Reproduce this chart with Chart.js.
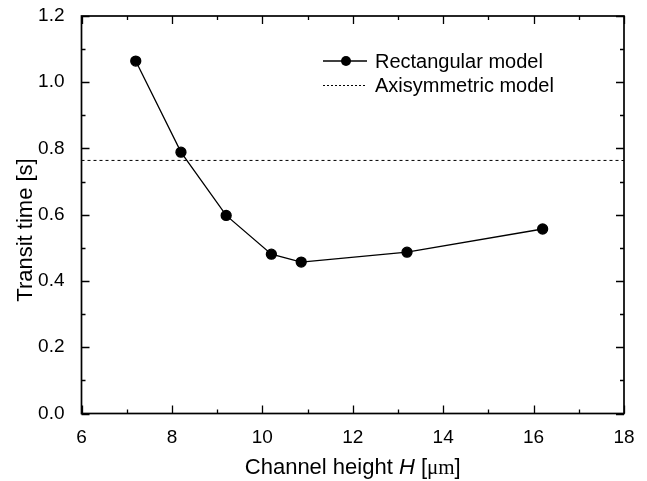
<!DOCTYPE html>
<html>
<head>
<meta charset="utf-8">
<script src="https://cdn.jsdelivr.net/npm/chart.js@4/dist/chart.umd.min.js"></script>
<style>
  html, body { margin: 0; padding: 0; background: #fff; }
  #wrap { width: 647px; height: 481px; }
</style>
</head>
<body>
<div id="wrap"><canvas id="c" width="647" height="481"></canvas></div>
<script>
    // data
    const channelHeight = [7.2, 8.2, 9.2, 10.2, 10.86, 13.2, 16.2];
    const transitTime = [1.064, 0.789, 0.598, 0.481, 0.457, 0.487, 0.557];
    const axisymmetricTime = 0.764;
    const xRange = [6, 18];
    const yRange = [0, 1.2];
    const seriesNames = ['Rectangular model', 'Axisymmetric model'];

    const FONT = '"Liberation Sans", Arial, sans-serif';

    // ticks pointing inward on all four sides, frame, legend and axis titles
    const frameTicks = {
        id: 'frameTicks',
        afterDraw(chart) {
            const { ctx, chartArea: a, scales: { x, y } } = chart;
            ctx.save();
            ctx.strokeStyle = '#000';
            ctx.lineWidth = 1.3;
            for (let v = xRange[0]; v <= xRange[1]; v += 1) {
                const px = Math.round(x.getPixelForValue(v)) + 0.5;
                const len = v % 2 === 0 ? 8 : 4;
                ctx.beginPath();
                ctx.moveTo(px, a.bottom); ctx.lineTo(px, a.bottom - len);
                ctx.moveTo(px, a.top); ctx.lineTo(px, a.top + len);
                ctx.stroke();
            }
            for (let i = 0; i <= 12; i++) {
                const py = Math.round(y.getPixelForValue(i / 10)) + 0.5;
                const len = i % 2 === 0 ? 8 : 4;
                ctx.beginPath();
                ctx.moveTo(a.left, py); ctx.lineTo(a.left + len, py);
                ctx.moveTo(a.right, py); ctx.lineTo(a.right - len, py);
                ctx.stroke();
            }
            ctx.lineWidth = 1.7;
            ctx.strokeRect(a.left, a.top, a.right - a.left, a.bottom - a.top);

            // legend
            ctx.fillStyle = '#000';
            ctx.font = '20px ' + FONT;
            ctx.textBaseline = 'middle';
            ctx.lineWidth = 1.3;
            ctx.beginPath();
            ctx.moveTo(323, 61); ctx.lineTo(367, 61);
            ctx.stroke();
            ctx.beginPath();
            ctx.arc(346, 61, 5, 0, Math.PI * 2);
            ctx.fill();
            ctx.fillText(seriesNames[0], 375, 62);
            ctx.lineWidth = 1;
            ctx.setLineDash([2, 2]);
            ctx.beginPath();
            ctx.moveTo(323, 85.5); ctx.lineTo(365, 85.5);
            ctx.stroke();
            ctx.setLineDash([]);
            ctx.fillText(seriesNames[1], 375, 86);

            // x axis title with italic H
            ctx.textBaseline = 'alphabetic';
            const parts = [
                ['Channel height ', '22px ' + FONT],
                ['H', 'italic 22px ' + FONT],
                [' [', '22px ' + FONT],
                ['\u03bcm', '21px "Liberation Serif", serif'],
                [']', '22px ' + FONT]
            ];
            let total = 0;
            parts.forEach(p => { ctx.font = p[1]; total += ctx.measureText(p[0]).width; });
            let cx = (a.left + a.right) / 2 - total / 2;
            parts.forEach(p => {
                ctx.font = p[1];
                ctx.fillText(p[0], cx, 474);
                cx += ctx.measureText(p[0]).width;
            });

            // y axis title
            ctx.translate(32, 230);
            ctx.rotate(-Math.PI / 2);
            ctx.font = '22px ' + FONT;
            ctx.textAlign = 'center';
            ctx.fillText('Transit time [s]', 0, 0);
            ctx.restore();
        }
    };

    new Chart(document.getElementById('c'), {
        type: 'scatter',
        data: {
            datasets: [{
                label: seriesNames[0],
                data: channelHeight.map((h, i) => ({ x: h, y: transitTime[i] })),
                showLine: true,
                borderColor: '#000',
                backgroundColor: '#000',
                borderWidth: 1.3,
                pointRadius: 5,
                pointHoverRadius: 5,
                tension: 0
            }, {
                label: seriesNames[1],
                data: xRange.map(h => ({ x: h, y: axisymmetricTime })),
                showLine: true,
                borderColor: '#000',
                borderWidth: 1,
                borderDash: [3, 3],
                pointRadius: 0
            }]
        },
        plugins: [frameTicks],
        options: {
            responsive: false,
            animation: false,
            layout: { padding: { top: 16, right: 23, left: 0, bottom: 0 } },
            plugins: { legend: { display: false }, tooltip: { enabled: false } },
            scales: {
                x: {
                    type: 'linear',
                    min: xRange[0], max: xRange[1],
                    border: { display: false },
                    grid: { display: false },
                    afterFit: s => { s.height = 67.5; s.paddingLeft = 0; s.paddingRight = 0; },
                    ticks: {
                        stepSize: 2, color: '#000', padding: 5,
                        font: { family: FONT, size: 19 },
                        maxRotation: 0
                    }
                },
                y: {
                    min: yRange[0], max: yRange[1],
                    border: { display: false },
                    grid: { display: false },
                    afterFit: s => { s.width = 81.5; s.paddingTop = 0; s.paddingBottom = 0; },
                    ticks: {
                        stepSize: 0.2, color: '#000', padding: 9,
                        font: { family: FONT, size: 19 },
                        callback: v => v.toFixed(1)
                    }
                }
            }
        }
    });
</script>
</body>
</html>
